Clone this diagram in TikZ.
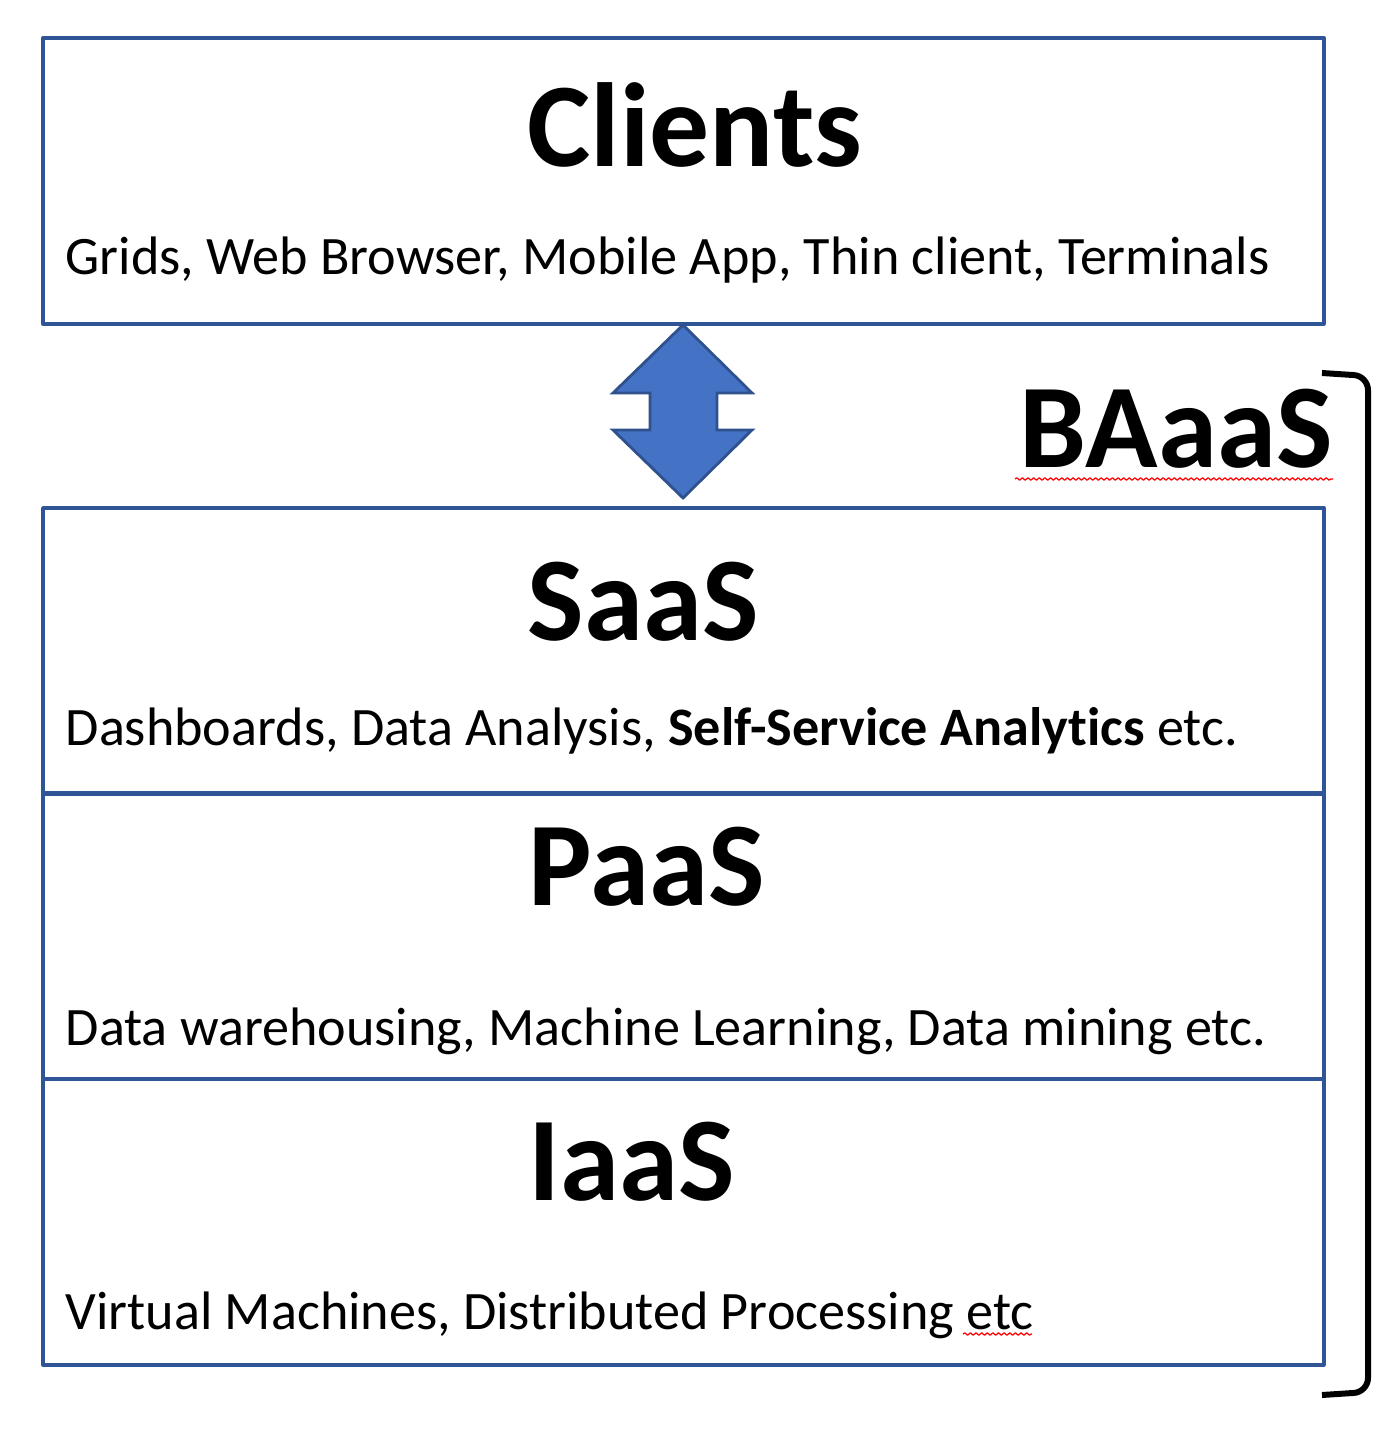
\documentclass[tikz,border=0pt]{standalone}
\usepackage{fontspec}
\setmainfont[Ligatures=NoCommon]{Carlito}
\usetikzlibrary{decorations.pathmorphing}
\definecolor{boxblue}{HTML}{2F5597}
\definecolor{arrowfill}{HTML}{4472C4}
\definecolor{arrowedge}{HTML}{2F528F}
\tikzset{
 layer/.style={draw=boxblue, line width=1.1pt, rectangle, anchor=north west, minimum width=12.8cm, minimum height=2.855cm, inner sep=0pt, outer sep=0pt},
 ttl/.style={anchor=base west, inner sep=0pt, font=\fontsize{34}{40}\selectfont\bfseries},
 sub/.style={anchor=base west, inner sep=0pt, font=\fontsize{15.4}{18}\selectfont},
 squiggle/.style={red, line width=0.35pt, decorate, decoration={snake, amplitude=0.35pt, segment length=1.6pt}}
}
\begin{document}
\begin{tikzpicture}[x=0.01cm, y=-0.01cm, line join=round]
 \useasboundingbox (0,0) rectangle (1388,1443);
 % layers
 \node[layer] (clients) at (43,38) {};
 \node[layer] (saas) at (43,508) {};
 \node[layer] (paas) at (43,793) {};
 \node[layer] (iaas) at (43,1079) {};
 \node[ttl] (tclients) at (527,167) {Clients};
 \node[ttl] (tsaas) at (527,640) {SaaS};
 \node[ttl] (tpaas) at (528,905) {PaaS};
 \node[ttl] (tiaas) at (528,1200) {IaaS};
 \node[sub] (sclients) at (65,275) {Grids, Web Browser, Mobile App, Thin client, Terminals};
 \node[sub] (ssaas) at (65,745) {Dashboards, Data Analysis, \textbf{Self-Service Analytics} etc.};
 \node[sub] (spaas) at (65,1045) {Data warehousing, Machine Learning, Data mining etc.};
 \node[sub] (siaas) at (65,1329) {Virtual Machines, Distributed Processing etc};
 % double arrow
 \draw[fill=arrowfill, draw=arrowedge, line width=0.8pt, line join=miter]
  (683,325)--(752,393)--(717,393)--(717,430)--(752,430)--(683,498)
  --(613,430)--(650,430)--(650,393)--(613,393)--cycle;
 % bracket
 \node[ttl] (baaas) at (1019,468) {BAaaS};
 \draw[line width=1.7pt, rounded corners=4pt] (1322,373)--(1368,376)--(1368,1392)--(1322,1395);
 % spell-check marks
 \draw[squiggle] (1015,479)--(1333,479);
 \draw[squiggle] (963,1334)--(1032,1334);
\end{tikzpicture}
\end{document}
